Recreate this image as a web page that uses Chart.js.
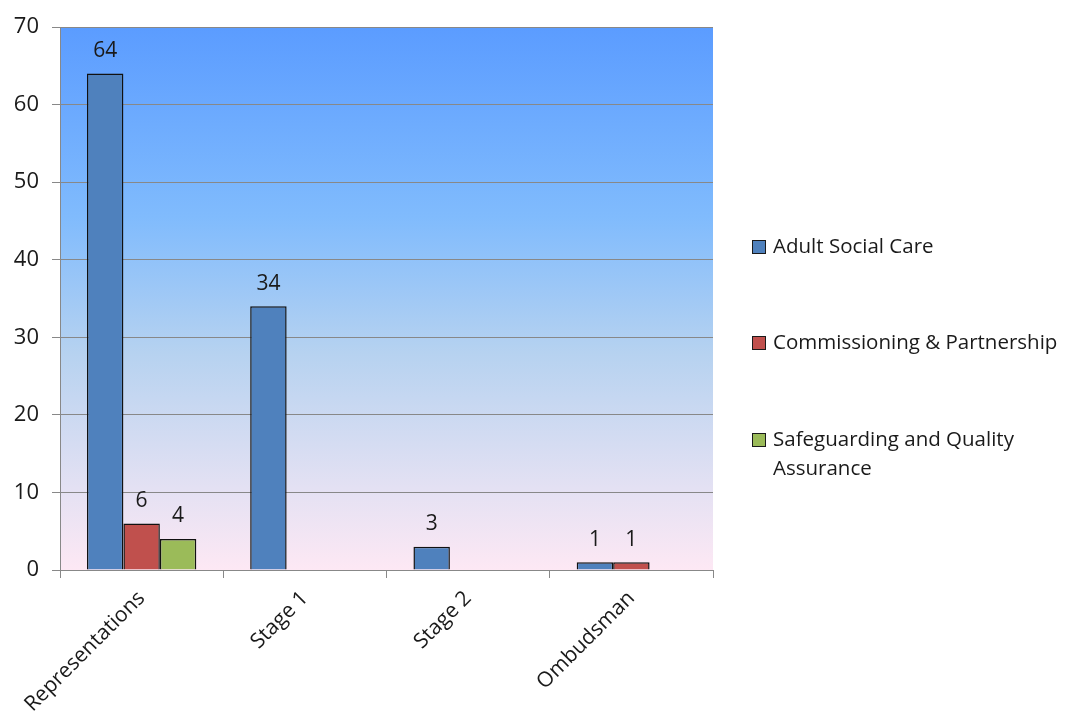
<!DOCTYPE html>
<html>
<head>
<meta charset="utf-8">
<script src="https://cdn.jsdelivr.net/npm/chart.js@4"></script>
<style>
  html, body { margin: 0; padding: 0; background: #fff; }
  #wrap { width: 1078px; height: 716px; }
</style>
</head>
<body>
<div id="wrap"><canvas id="complaintsChart"></canvas></div>
<script>
var categories = ['Representations', 'Stage 1', 'Stage 2', 'Ombudsman'];
var adultSocialCare = [64, 34, 3, 1];
var commissioning = [6, null, null, 1];
var safeguarding = [4, null, null, null];
var yTicks = [0, 10, 20, 30, 40, 50, 60, 70];

var FONT = '"Open Sans", Lato, sans-serif';

// fundo em degradê da área do gráfico
var bgPlugin = {
  id: 'bgGradient',
  beforeDraw: function(chart) {
    var a = chart.chartArea, c = chart.ctx;
    var g = c.createLinearGradient(0, a.top, 0, a.bottom);
    g.addColorStop(0, '#5b9cff');
    g.addColorStop(0.35, '#80bbfd');
    g.addColorStop(0.6, '#b6d2f0');
    g.addColorStop(0.85, '#e4e1f3');
    g.addColorStop(1, '#fde8f4');
    c.save();
    c.fillStyle = g;
    c.fillRect(a.left, a.top, a.right - a.left, a.bottom - a.top);
    c.restore();
  }
};

// valores acima das barras
var labelPlugin = {
  id: 'barLabels',
  afterDatasetsDraw: function(chart) {
    var c = chart.ctx;
    c.save();
    c.font = '21px ' + FONT;
    c.fillStyle = '#1a1a1a';
    c.textAlign = 'center';
    c.textBaseline = 'bottom';
    chart.data.datasets.forEach(function(ds, i) {
      chart.getDatasetMeta(i).data.forEach(function(bar, j) {
        var v = ds.data[j];
        if (v === null || v === undefined) return;
        c.fillText(String(v), bar.x, bar.y - 12);
      });
    });
    c.restore();
  }
};

// legenda à direita, com quebra de linha manual
var legendPlugin = {
  id: 'sideLegend',
  afterDraw: function(chart) {
    var c = chart.ctx;
    var items = [
      { lines: ['Adult Social Care'], y: 247 },
      { lines: ['Commissioning & Partnership'], y: 343 },
      { lines: ['Safeguarding and Quality', 'Assurance'], y: 440 }
    ];
    c.save();
    c.font = '20.5px ' + FONT;
    c.textBaseline = 'middle';
    items.forEach(function(it, i) {
      var ds = chart.data.datasets[i];
      c.fillStyle = ds.backgroundColor;
      c.fillRect(752, it.y - 7, 14, 14);
      c.strokeStyle = '#1a1a1a';
      c.lineWidth = 1;
      c.strokeRect(752.5, it.y - 6.5, 13, 13);
      c.fillStyle = '#1a1a1a';
      it.lines.forEach(function(t, k) {
        c.fillText(t, 773, it.y + k * 29);
      });
    });
    c.restore();
  }
};

var ctx = document.getElementById('complaintsChart').getContext('2d');
var chart = new Chart(ctx, {
  type: 'bar',
  data: {
    labels: categories,
    datasets: [
      { label: 'Adult Social Care', data: adultSocialCare, backgroundColor: '#4f81bd', borderColor: '#111', borderWidth: 1.5, borderSkipped: 'bottom' },
      { label: 'Commissioning & Partnership', data: commissioning, backgroundColor: '#c0504d', borderColor: '#111', borderWidth: 1.5, borderSkipped: 'bottom' },
      { label: 'Safeguarding and Quality Assurance', data: safeguarding, backgroundColor: '#9bbb59', borderColor: '#111', borderWidth: 1.5, borderSkipped: 'bottom' }
    ]
  },
  options: {
    responsive: true,
    maintainAspectRatio: false,
    animation: false,
    layout: { padding: { top: 27, right: 365, left: 0, bottom: 0 } },
    plugins: { legend: { display: false }, tooltip: { enabled: false } },
    datasets: { bar: { barPercentage: 1, categoryPercentage: 0.67 } },
    scales: {
      x: {
        grid: { offset: true, drawOnChartArea: false, color: '#888', tickLength: 8 },
        border: { color: '#888' },
        ticks: { color: '#1a1a1a', font: { size: 21, family: FONT }, maxRotation: 45, minRotation: 45, padding: 8 },
        afterFit: function(s) { s.height = 146; }
      },
      y: {
        min: 0,
        max: 70,
        afterBuildTicks: function(s) { s.ticks = yTicks.map(function(v) { return { value: v }; }); },
        grid: { color: '#888', tickLength: 8 },
        border: { color: '#888' },
        ticks: { color: '#1a1a1a', font: { size: 22, family: FONT }, padding: 13 },
        afterFit: function(s) { s.width = 60; }
      }
    }
  },
  plugins: [bgPlugin, labelPlugin, legendPlugin]
});
</script>
</body>
</html>
